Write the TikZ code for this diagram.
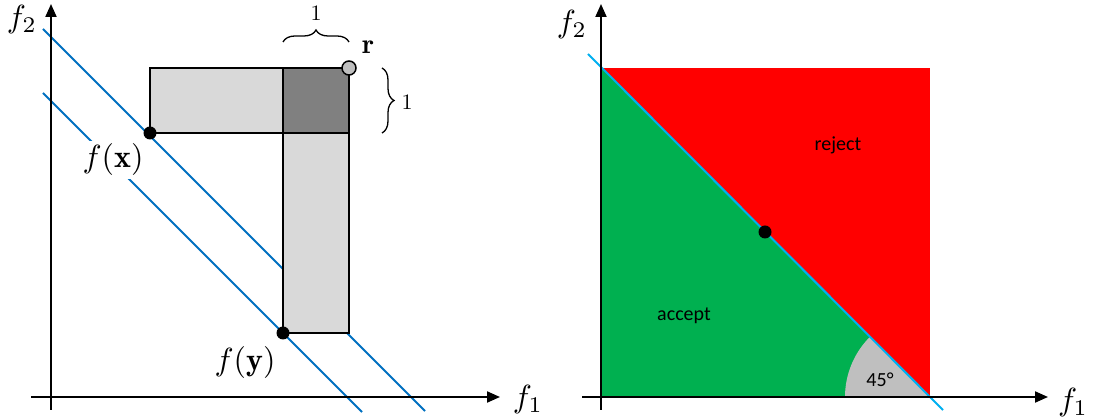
\documentclass[tikz,border=0pt]{standalone}
\usepackage{fontspec}
\newfontfamily\carlito{Carlito}
\usetikzlibrary{arrows.meta,decorations.pathreplacing}
\definecolor{lgray}{RGB}{217,217,217}
\definecolor{dgray}{RGB}{128,128,128}
\definecolor{sgray}{RGB}{191,191,191}
\definecolor{lblue}{RGB}{0,112,192}
\definecolor{cyanline}{RGB}{0,176,240}
\definecolor{accgreen}{RGB}{0,176,80}
\definecolor{rejred}{RGB}{255,0,0}
\tikzset{
  axis/.style={line width=2pt,-{Triangle[length=13pt,width=11pt]}},
  bline/.style={lblue,line width=2pt},
  boxpart/.style={draw=black,line width=2pt},
  dotpt/.style={circle,fill=black,inner sep=0pt,minimum size=13pt},
  bigmath/.style={scale=3.2,inner sep=1pt},
  bracelab/.style={scale=2.2,inner sep=0pt},
  brc/.style={line width=1.3pt,decorate,decoration={brace,amplitude=12pt}},
  sans/.style={font=\carlito\fontsize{20}{24}\selectfont,inner sep=0pt},
}
\begin{document}
\begin{tikzpicture}[x=1pt,y=1pt]
\useasboundingbox (0,0) rectangle (1097,419);
% ---------- left panel ----------
\coordinate (l1a) at (43,390);
\coordinate (l1b) at (425,8);
\coordinate (l2a) at (43,326);
\coordinate (l2b) at (362,7);
\draw[bline] (l1a) -- (l1b);
\draw[bline] (l2a) -- (l2b);
\coordinate (ya0) at (51,9);
\coordinate (ya1) at (51,415);
\coordinate (xa0) at (31,22);
\coordinate (xa1) at (500,22);
\draw[axis] (ya0) -- (ya1);
\draw[axis] (xa0) -- (xa1);
\draw[boxpart,fill=lgray] (150,286) rectangle (349,351);
\draw[boxpart,fill=lgray] (283,86) rectangle (349,286);
\draw[boxpart,fill=dgray] (283,286) rectangle (349,351);
\node[dotpt] (fx) at (150,286) {};
\node[dotpt] (fy) at (283,86) {};
\node[circle,draw=black,line width=1.5pt,fill=sgray,inner sep=0pt,minimum size=14pt] (r) at (349,351) {};
\node[scale=2.8] (rlab) at (368,372) {$\mathbf{r}$};
\coordinate (tb0) at (283,377);
\coordinate (tb1) at (349,377);
\draw[brc] (tb0) -- (tb1);
\node[bracelab] (one1) at (316,406) {$1$};
\coordinate (rb0) at (382,351);
\coordinate (rb1) at (382,286);
\draw[brc] (rb0) -- (rb1);
\node[bracelab] (one2) at (407,317) {$1$};
\node[bigmath] (f2l) at (22,399) {$f_2$};
\node[bigmath,fill=white] (fxl) at (113,259) {$f(\mathbf{x})$};
\node[bigmath] (fyl) at (245,56) {$f(\mathbf{y})$};
\node[bigmath] (f1l) at (528,19) {$f_1$};
% ---------- right panel ----------
\fill[rejred] (601,22) rectangle (930,351);
\fill[accgreen] (601,351) -- (601,22) -- (930,22) -- cycle;
\fill[sgray] (930,22) -- (845,22) arc[start angle=180,end angle=135,radius=85] -- cycle;
\coordinate (ca) at (588,365);
\coordinate (cb) at (943,9);
\draw[cyanline,line width=2pt] (ca) -- (cb);
\coordinate (rya0) at (601,9);
\coordinate (rya1) at (601,415);
\coordinate (rxa0) at (582,22);
\coordinate (rxa1) at (1048,22);
\draw[axis] (rya0) -- (rya1);
\draw[axis] (rxa0) -- (rxa1);
\node[dotpt] (mid) at (765,187) {};
\node[sans] (rej) at (838,274) {reject};
\node[sans] (acc) at (684,103) {accept};
\node[sans] (ang) at (880,39) {45°};
\node[bigmath] (f2r) at (572,394) {$f_2$};
\node[bigmath] (f1r) at (1073,16) {$f_1$};
\end{tikzpicture}
\end{document}
